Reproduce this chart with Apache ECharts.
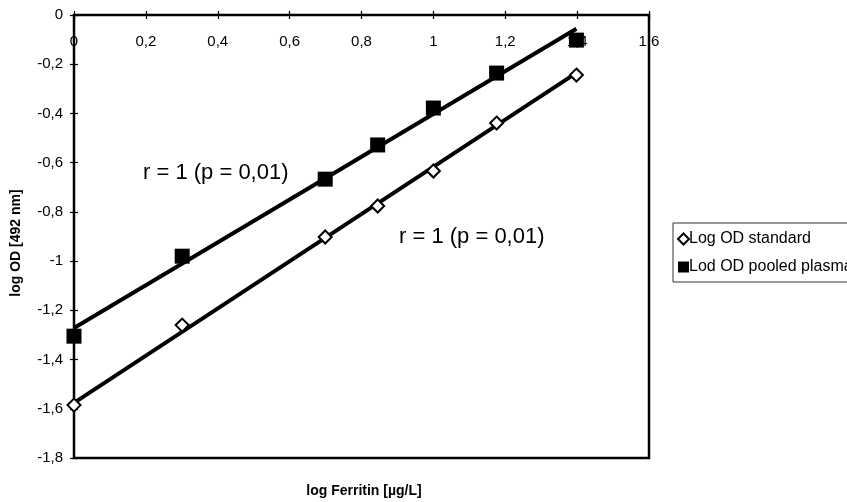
<!DOCTYPE html>
<html>
<head>
<meta charset="utf-8">
<script src="https://cdn.jsdelivr.net/npm/echarts@6/dist/echarts.min.js"></script>
<style>html,body{margin:0;padding:0;background:#fff}#c{width:847px;height:502px}</style>
</head>
<body>
<div id="c"></div>
<script>
// log Ferritin values
const logFerritin = [0, 0.301, 0.699, 0.845, 1.0, 1.176, 1.398];
// log OD standard (open diamonds)
const logOdStandard = [-1.585, -1.26, -0.902, -0.776, -0.634, -0.439, -0.244];
// log OD pooled plasma (filled squares)
const logOdPooled = [-1.305, -0.98, -0.667, -0.528, -0.378, -0.236, -0.102];
// regression line end points (x, y)
const fitX = [0, 1.398];
const fitStandard = [-1.576, -0.235];
const fitPooled = [-1.272, -0.056];
// tick labels
const xTickLabels = ['0', '0,2', '0,4', '0,6', '0,8', '1', '1,2', '1,4', '1,6'];
const yTickLabels = ['-1,8', '-1,6', '-1,4', '-1,2', '-1', '-0,8', '-0,6', '-0,4', '-0,2', '0'];
const seriesNames = ['Log OD standard', 'Lod OD pooled plasma'];
const annotation = 'r = 1 (p = 0,01)';

const FONT = 'Liberation Sans, Arial, sans-serif';
const chart = echarts.init(document.getElementById('c'), null, {renderer: 'canvas'});

const xLab = v => xTickLabels[Math.round(v / 0.2)];
const yLab = v => yTickLabels[Math.round((v + 1.8) / 0.2)];

const pts = ys => logFerritin.map((x, i) => [x, ys[i]]);
const fit = ys => fitX.map((x, i) => [x, ys[i]]);

chart.setOption({
  animation: false,
  backgroundColor: '#fff',
  grid: {left: 74, top: 15, right: 198, bottom: 44, show: true, borderColor: '#000', borderWidth: 2.5, backgroundColor: 'transparent'},
  xAxis: [{
    type: 'value', min: 0, max: 1.6, interval: 0.2, position: 'top',
    axisLine: {show: true, onZero: false, lineStyle: {color: '#000', width: 2}},
    axisTick: {show: true, length: 4, lineStyle: {color: '#000', width: 1.2}},
    axisLabel: {inside: true, margin: 19, formatter: xLab, color: '#000', fontFamily: FONT, fontSize: 15, showMinLabel: true, showMaxLabel: true},
    splitLine: {show: false}
  }, {
    type: 'value', min: 0, max: 1.6, interval: 0.2, position: 'top',
    axisLine: {show: false, onZero: false},
    axisTick: {show: true, inside: true, length: 4, lineStyle: {color: '#000', width: 1.2}},
    axisLabel: {show: false}, splitLine: {show: false}
  }],
  yAxis: [{
    type: 'value', min: -1.8, max: 0, interval: 0.2,
    axisLine: {show: true, onZero: false, lineStyle: {color: '#000', width: 2}},
    axisTick: {show: true, length: 4, lineStyle: {color: '#000', width: 1.2}},
    axisLabel: {margin: 11, formatter: yLab, color: '#000', fontFamily: FONT, fontSize: 15},
    splitLine: {show: false}
  }, {
    type: 'value', min: -1.8, max: 0, interval: 0.2, position: 'left',
    axisLine: {show: false, onZero: false},
    axisTick: {show: true, inside: true, length: 4, lineStyle: {color: '#000', width: 1.2}},
    axisLabel: {show: false}, splitLine: {show: false}
  }],
  legend: {
    orient: 'vertical', left: 673, top: 223,
    borderColor: '#333', borderWidth: 1, padding: [8, 8, 7, 4],
    itemGap: 12, itemWidth: 11, itemHeight: 11, itemStyle: {borderWidth: 2},
    textStyle: {fontFamily: FONT, fontSize: 16, color: '#000', padding: [0, 0, 0, -5]},
    data: [{name: seriesNames[0], icon: 'diamond'}, {name: seriesNames[1], icon: 'rect'}]
  },
  series: [
    {type: 'line', name: 'fitPooled', data: fit(fitPooled), showSymbol: false, symbol: 'none', lineStyle: {color: '#000', width: 4}, z: 2},
    {type: 'line', name: 'fitStandard', data: fit(fitStandard), showSymbol: false, symbol: 'none', lineStyle: {color: '#000', width: 4}, z: 2},
    {type: 'scatter', name: seriesNames[1], data: pts(logOdPooled), symbol: 'rect', symbolSize: 15,
     itemStyle: {color: '#000', opacity: 1}, z: 3},
    {type: 'scatter', name: seriesNames[0], data: pts(logOdStandard), symbol: 'diamond', symbolSize: 13,
     itemStyle: {color: '#fff', borderColor: '#000', borderWidth: 2, opacity: 1}, z: 4}
  ],
  graphic: [
    {type: 'text', left: 143, top: 162, style: {text: annotation, fontFamily: FONT, fontSize: 22, fill: '#000'}},
    {type: 'text', left: 399, top: 226, style: {text: annotation, fontFamily: FONT, fontSize: 22, fill: '#000'}},
    {type: 'text', x: 364, y: 491, style: {text: 'log Ferritin [µg/L]', fontFamily: FONT, fontSize: 14, fontWeight: 'bold', fill: '#000', align: 'center', verticalAlign: 'middle'}},
    {type: 'text', x: 16, y: 243, rotation: Math.PI / 2, style: {text: 'log OD [492 nm]', fontFamily: FONT, fontSize: 14, fontWeight: 'bold', fill: '#000', align: 'center', verticalAlign: 'middle'}}
  ]
});
</script>
</body>
</html>
